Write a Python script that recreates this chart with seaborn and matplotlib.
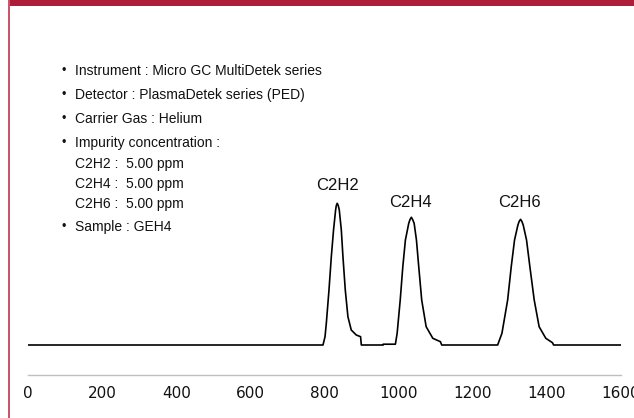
import seaborn as sns
import matplotlib.pyplot as plt
import pandas as pd
from matplotlib.patches import Rectangle

# chromatogram trace (x = time, signal = arbitrary units)
time = [0, 795.5, 801, 804.5, 811.7, 818, 824, 829.6, 831.5, 834, 836.7, 839.5, 845, 849.4,
        855.7, 862.8, 871.8, 885.3, 897, 899, 958, 958, 991, 995.7, 1004, 1011, 1018, 1027, 1030.5,
        1034, 1037.5, 1041.6, 1047.8, 1054, 1062, 1074, 1092, 1112.5, 1116, 1267, 1278.6,
        1294, 1303.7, 1312.6, 1321.7, 1325, 1328.8, 1332.5, 1336, 1345, 1354, 1365.7, 1379,
        1397, 1415, 1418, 1600]
signal = [0, 0, 8.3, 21.7, 55, 88.3, 115, 135, 139.5, 141.7, 139.5, 135, 115, 88.3,
          55, 28.3, 15, 10, 8.3, 0, 0, 0.8, 0.8, 11.7, 45, 78.3, 105, 121.7, 125.5,
          127.7, 125.5, 121.7, 105, 78.3, 45, 18.3, 6.7, 3.3, 0, 0, 11.7,
          45, 78.3, 105, 120, 123.5, 125.7, 123.5, 120, 105, 78.3, 45, 18.3,
          6.7, 2.3, 0, 0]

peak_names = ["C2H2", "C2H4", "C2H6"]
peak_x = [834.8, 1031.5, 1326.7]
peak_label_y = [159.5, 143, 143]

info_lines = ["Instrument : Micro GC MultiDetek series",
              "Detector : PlasmaDetek series (PED)",
              "Carrier Gas : Helium",
              "Impurity concentration :",
              "C2H2 :  5.00 ppm",
              "C2H4 :  5.00 ppm",
              "C2H6 :  5.00 ppm",
              "Sample : GEH4"]
info_bullet = [True, True, True, True, False, False, False, True]
info_y = [70.7, 95, 119, 143, 164, 184, 204, 227]

xticks = [0, 200, 400, 600, 800, 1000, 1200, 1400, 1600]

sns.set_style("white")
W, H = 634, 418
fig = plt.figure(figsize=(W / 100, H / 100), dpi=100)

# axes placed in pixels: x 0..1600 -> 28.3..621, spine at y=374.5, top at 60
left, right, top, bottom = 28.3, 621, 60, 374.5
ax = fig.add_axes([left / W, 1 - bottom / H, (right - left) / W, (bottom - top) / H])

df = pd.DataFrame({"time": time, "signal": signal})
sns.lineplot(data=df, x="time", y="signal", sort=False, estimator=None,
             color="black", linewidth=1.2, ax=ax)

ax.set_xlim(0, 1600)
ax.set_ylim(-29.5, 285)
ax.set_xticks(xticks)
ax.set_xticklabels([str(t) for t in xticks], fontsize=11, family="DejaVu Sans", color="#111111")
ax.set_yticks([])
ax.set_xlabel("")
ax.set_ylabel("")
for s in ["top", "right", "left"]:
    ax.spines[s].set_visible(False)
ax.spines["bottom"].set_color("#bfbfbf")
ax.spines["bottom"].set_linewidth(1)
ax.tick_params(axis="x", direction="out", length=3, width=1, color="#bfbfbf", pad=5)
ax.patch.set_alpha(0)

for name, px, py in zip(peak_names, peak_x, peak_label_y):
    ax.text(px, py, name, ha="center", va="center", fontsize=12,
            family="Liberation Sans", color="#111111")

for line, bullet, py in zip(info_lines, info_bullet, info_y):
    if bullet:
        fig.text(64 / W, 1 - py / H, "\u2022", ha="center", va="center", fontsize=9,
                 family="Liberation Sans", color="#111111")
    fig.text(75 / W, 1 - py / H, line, ha="left", va="center", fontsize=10,
             family="Liberation Sans", color="#111111")

# frame decoration: red band on top, thin pink line on the left
fig.patches.append(Rectangle((8 / W, 1 - 6 / H), 1 - 8 / W, 6 / H, transform=fig.transFigure,
                             facecolor="#ad1d3a", edgecolor="none", zorder=5))
fig.patches.append(Rectangle((8 / W, 0), 2 / W, 1, transform=fig.transFigure,
                             facecolor="#c9566c", edgecolor="none", zorder=5))

fig.savefig("out.png", dpi=100)
